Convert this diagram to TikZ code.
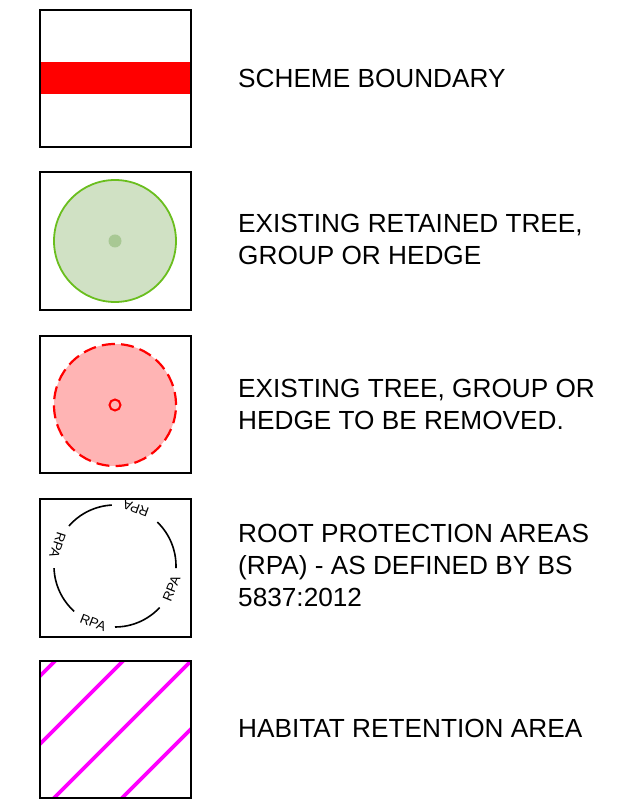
\documentclass[tikz,border=0pt]{standalone}
\usepackage{fontspec}
\setmainfont{Liberation Sans}
\usetikzlibrary{calc}
\definecolor{greenfill}{RGB}{208,225,196}
\definecolor{greenline}{RGB}{106,190,30}
\definecolor{greendot}{RGB}{168,200,148}
\definecolor{pinkfill}{RGB}{255,180,180}
\definecolor{hatchmag}{RGB}{255,0,255}
\definecolor{bandred}{RGB}{255,0,0}
\begin{document}
\begin{tikzpicture}[x=1pt,y=1pt,
  legbox/.style={draw=black, line width=1.6pt},
  lbl/.style={anchor=base west, inner sep=0pt, align=left, font=\fontsize{26.2}{32}\selectfont},
  rpa/.style={inner sep=0pt, font=\fontsize{13.4}{15}\selectfont},
  rpaarc/.style={draw=black, line width=1.6pt},
  hatch/.style={draw=hatchmag, line width=3.8pt}]
\useasboundingbox (0,0) rectangle (635,809);

% 1 scheme boundary
\fill[bandred] (40,715) rectangle (191,747);
\draw[legbox] (40,662) rectangle (191,799);
\node[lbl] (t1) at (238,721) {SCHEME BOUNDARY};

% 2 retained tree
\draw[legbox] (40,499) rectangle (191,637);
\coordinate (c2) at (115,568);
\draw[fill=greenfill, draw=greenline, line width=1.8pt] (c2) circle[radius=61];
\fill[greendot] (c2) circle[radius=6.5];
\node[lbl] (t2) at (238,544) {EXISTING RETAINED TREE,\\GROUP OR HEDGE};

% 3 removed tree
\draw[legbox] (40,336) rectangle (191,473);
\coordinate (c3) at (115,404);
\draw[fill=pinkfill, draw=bandred, line width=2.2pt, dash pattern=on 13pt off 6.2pt] (c3) circle[radius=61];
\draw[draw=bandred, line width=2pt] (c3) circle[radius=5.5];
\node[lbl] (t3) at (238,379) {EXISTING TREE, GROUP OR\\HEDGE TO BE REMOVED.};

% 4 RPA
\draw[legbox] (40,172) rectangle (191,310);
\coordinate (c4) at (115,243);
\draw[rpaarc] ($(c4)+(-2:61)$) arc[start angle=-2, end angle=46, radius=61];
\draw[rpaarc] ($(c4)+(93:61)$) arc[start angle=93, end angle=139, radius=61];
\draw[rpaarc] ($(c4)+(182:61)$) arc[start angle=182, end angle=228, radius=61];
\draw[rpaarc] ($(c4)+(270:61)$) arc[start angle=270, end angle=317, radius=61];
\node[rpa, rotate=160] (r1) at ($(c4)+(70:61)$) {RPA};
\node[rpa, rotate=252] (r2) at ($(c4)+(160:61)$) {RPA};
\node[rpa, rotate=339] (r3) at ($(c4)+(249:61)$) {RPA};
\node[rpa, rotate=68] (r4) at ($(c4)+(338:61)$) {RPA};
\node[lbl] (t4) at (238,202) {ROOT PROTECTION AREAS\\(RPA) - AS DEFINED BY BS\\5837:2012};

% 5 habitat retention
\begin{scope}
  \clip (40,11) rectangle (191,148);
  \foreach \k in {93,25,-43,-111} {
    \draw[hatch] (0,\k) -- (250,250+\k);
  }
\end{scope}
\draw[legbox] (40,11) rectangle (191,148);
\node[lbl] (t5) at (238,71) {HABITAT RETENTION AREA};
\end{tikzpicture}
\end{document}
